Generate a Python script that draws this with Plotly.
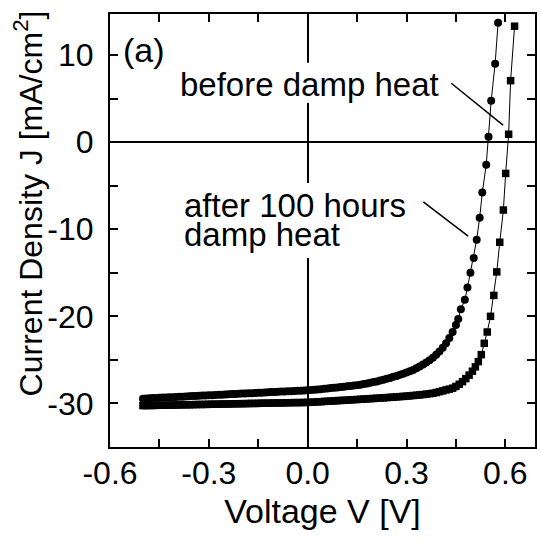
import plotly.graph_objects as go

# "after 100 hours damp heat" (circles)
v_after = [-0.50, -0.49, -0.48, -0.47, -0.46, -0.45, -0.44, -0.43, -0.42, -0.41,
           -0.40, -0.39, -0.38, -0.37, -0.36, -0.35, -0.34, -0.33, -0.32, -0.31,
           -0.30, -0.29, -0.28, -0.27, -0.26, -0.25, -0.24, -0.23, -0.22, -0.21,
           -0.20, -0.19, -0.18, -0.17, -0.16, -0.15, -0.14, -0.13, -0.12, -0.11,
           -0.10, -0.09, -0.08, -0.07, -0.06, -0.05, -0.04, -0.03, -0.02, -0.01,
           0.00, 0.01, 0.02, 0.03, 0.04, 0.05, 0.06, 0.07, 0.08, 0.09,
           0.10, 0.11, 0.12, 0.13, 0.14, 0.15, 0.16, 0.17, 0.18, 0.19,
           0.20, 0.21, 0.22, 0.23, 0.24, 0.25, 0.26, 0.27, 0.28, 0.29,
           0.30, 0.31, 0.32, 0.33, 0.34, 0.35, 0.36, 0.37, 0.38, 0.39,
           0.40, 0.41, 0.42, 0.43, 0.44, 0.45, 0.457, 0.465, 0.477, 0.485,
           0.494, 0.504, 0.513, 0.522, 0.530, 0.542, 0.549, 0.557, 0.569, 0.578]
j_after = [-29.45, -29.43, -29.41, -29.39, -29.37, -29.35, -29.33, -29.32, -29.30, -29.28,
           -29.26, -29.24, -29.22, -29.20, -29.18, -29.16, -29.14, -29.12, -29.10, -29.09,
           -29.07, -29.05, -29.03, -29.01, -28.99, -28.97, -28.95, -28.93, -28.91, -28.89,
           -28.87, -28.85, -28.83, -28.82, -28.80, -28.78, -28.76, -28.74, -28.72, -28.70,
           -28.68, -28.66, -28.64, -28.62, -28.60, -28.59, -28.57, -28.55, -28.53, -28.52,
           -28.50, -28.47, -28.43, -28.40, -28.36, -28.32, -28.28, -28.24, -28.20, -28.16,
           -28.12, -28.08, -28.04, -28.00, -27.95, -27.90, -27.85, -27.78, -27.70, -27.63,
           -27.55, -27.47, -27.38, -27.28, -27.18, -27.07, -26.95, -26.84, -26.72, -26.59,
           -26.45, -26.30, -26.15, -25.96, -25.75, -25.53, -25.30, -25.04, -24.75, -24.42,
           -24.05, -23.60, -23.10, -22.50, -21.80, -21.00, -20.30, -19.20, -18.10, -16.70,
           -15.00, -13.30, -11.20, -8.70, -5.80, -2.60, 0.60, 4.75, 9.00, 13.70]

# "before damp heat" (squares)
v_before = [-0.50, -0.49, -0.48, -0.47, -0.46, -0.45, -0.44, -0.43, -0.42, -0.41,
            -0.40, -0.39, -0.38, -0.37, -0.36, -0.35, -0.34, -0.33, -0.32, -0.31,
            -0.30, -0.29, -0.28, -0.27, -0.26, -0.25, -0.24, -0.23, -0.22, -0.21,
            -0.20, -0.19, -0.18, -0.17, -0.16, -0.15, -0.14, -0.13, -0.12, -0.11,
            -0.10, -0.09, -0.08, -0.07, -0.06, -0.05, -0.04, -0.03, -0.02, -0.01,
            0.00, 0.01, 0.02, 0.03, 0.04, 0.05, 0.06, 0.07, 0.08, 0.09,
            0.10, 0.11, 0.12, 0.13, 0.14, 0.15, 0.16, 0.17, 0.18, 0.19,
            0.20, 0.21, 0.22, 0.23, 0.24, 0.25, 0.26, 0.27, 0.28, 0.29,
            0.30, 0.31, 0.32, 0.33, 0.34, 0.35, 0.36, 0.37, 0.38, 0.39,
            0.40, 0.41, 0.42, 0.43, 0.44, 0.45, 0.46, 0.47, 0.48, 0.49,
            0.50, 0.509, 0.518, 0.527, 0.536, 0.545, 0.555, 0.565, 0.574, 0.583,
            0.594, 0.601, 0.610, 0.616, 0.628]
j_before = [-30.25, -30.24, -30.24, -30.23, -30.22, -30.21, -30.21, -30.20, -30.19, -30.18,
            -30.18, -30.17, -30.16, -30.15, -30.15, -30.14, -30.13, -30.12, -30.12, -30.11,
            -30.10, -30.09, -30.09, -30.08, -30.07, -30.06, -30.06, -30.05, -30.04, -30.03,
            -30.03, -30.02, -30.01, -30.00, -30.00, -29.99, -29.98, -29.97, -29.97, -29.96,
            -29.95, -29.94, -29.94, -29.93, -29.92, -29.91, -29.91, -29.90, -29.90, -29.89,
            -29.88, -29.86, -29.84, -29.82, -29.80, -29.77, -29.75, -29.73, -29.71, -29.68,
            -29.66, -29.64, -29.62, -29.59, -29.57, -29.55, -29.52, -29.50, -29.48, -29.45,
            -29.43, -29.40, -29.38, -29.35, -29.33, -29.30, -29.28, -29.25, -29.22, -29.19,
            -29.16, -29.13, -29.09, -29.06, -29.02, -28.98, -28.93, -28.88, -28.83, -28.75,
            -28.65, -28.56, -28.45, -28.36, -28.25, -28.05, -27.80, -27.50, -27.15, -26.75,
            -26.30, -25.80, -25.20, -24.40, -23.10, -21.80, -20.00, -17.60, -14.90, -11.50,
            -7.80, -3.60, 0.90, 7.05, 13.30]

x_ticks = [-0.6, -0.3, 0.0, 0.3, 0.6]
x_tick_text = ["-0.6", "-0.3", "0.0", "0.3", "0.6"]
y_ticks = [-30, -20, -10, 0, 10]
y_tick_text = ["-30", "-20", "-10", "0", "10"]

FONT = "Liberation Sans"

fig = go.Figure()
fig.add_trace(go.Scatter(
    x=v_after, y=j_after, mode="lines+markers",
    line=dict(color="black", width=1),
    marker=dict(symbol="circle", size=8, color="black"),
    name="after 100 hours damp heat", showlegend=False))
fig.add_trace(go.Scatter(
    x=v_before, y=j_before, mode="lines+markers",
    line=dict(color="black", width=1),
    marker=dict(symbol="square", size=7.5, color="black"),
    name="before damp heat", showlegend=False))

axis_common = dict(
    showline=True, linecolor="black", linewidth=2, mirror="ticks",
    ticks="inside", ticklen=8, tickwidth=1.5, tickcolor="black",
    showgrid=False, zeroline=True, zerolinecolor="black", zerolinewidth=1.5,
    tickfont=dict(family=FONT, size=32, color="black"),
)

fig.update_xaxes(
    range=[-0.6, 0.69], tickmode="array", tickvals=x_ticks, ticktext=x_tick_text,
    minor=dict(dtick=0.15, tick0=0, ticks="inside", ticklen=8, tickwidth=1.5, tickcolor="black"),
    title=dict(text="Voltage V [V]", font=dict(family=FONT, size=34, color="black"), standoff=9),
    ticklabelstandoff=-3,
    **axis_common)
fig.update_yaxes(
    range=[-35, 14.7], tickmode="array", tickvals=y_ticks, ticktext=y_tick_text,
    minor=dict(dtick=5, tick0=0, ticks="inside", ticklen=8, tickwidth=1.5, tickcolor="black"),
    ticklabelstandoff=8,
    **axis_common)

ann_font = dict(family=FONT, size=33, color="black")
annotations = [
    dict(x=-0.567, y=10.6, text="(a)", xanchor="left", yanchor="middle", showarrow=False,
         font=dict(family=FONT, size=34, color="black")),
    dict(x=-0.395, y=6.6, text="before damp heat", xanchor="left", yanchor="middle",
         showarrow=False, font=ann_font),
    dict(x=-0.38, y=-7.3, text="after 100 hours", xanchor="left", yanchor="middle",
         showarrow=False, font=ann_font),
    dict(x=-0.38, y=-10.6, text="damp heat", xanchor="left", yanchor="middle",
         showarrow=False, font=ann_font),
    dict(xref="paper", yref="paper", x=(28 - 110) / 427, y=(447 - 203) / 433,
         text="Current Density J [mA/cm<sup>2</sup>]", textangle=-90,
         xanchor="center", yanchor="middle", showarrow=False,
         font=dict(family=FONT, size=32, color="black")),
]
shapes = [
    # white gaps in the zero line behind the labels
    dict(type="rect", x0=-0.03, x1=0.03, y0=4.5, y1=9.1, line=dict(width=0),
         fillcolor="white", layer="above"),
    dict(type="rect", x0=-0.03, x1=0.03, y0=-13.3, y1=-4.7, line=dict(width=0),
         fillcolor="white", layer="above"),
    # pointer lines
    dict(type="line", x0=0.436, y0=6.75, x1=0.593, y1=1.95, line=dict(color="black", width=1.5)),
    dict(type="line", x0=0.351, y0=-6.86, x1=0.487, y1=-10.8, line=dict(color="black", width=1.5)),
]

fig.update_layout(
    width=540, height=541,
    margin=dict(l=110, r=3, t=14, b=94),
    paper_bgcolor="white", plot_bgcolor="white",
    annotations=annotations, shapes=shapes,
    showlegend=False,
)

fig.write_html("out.html")
